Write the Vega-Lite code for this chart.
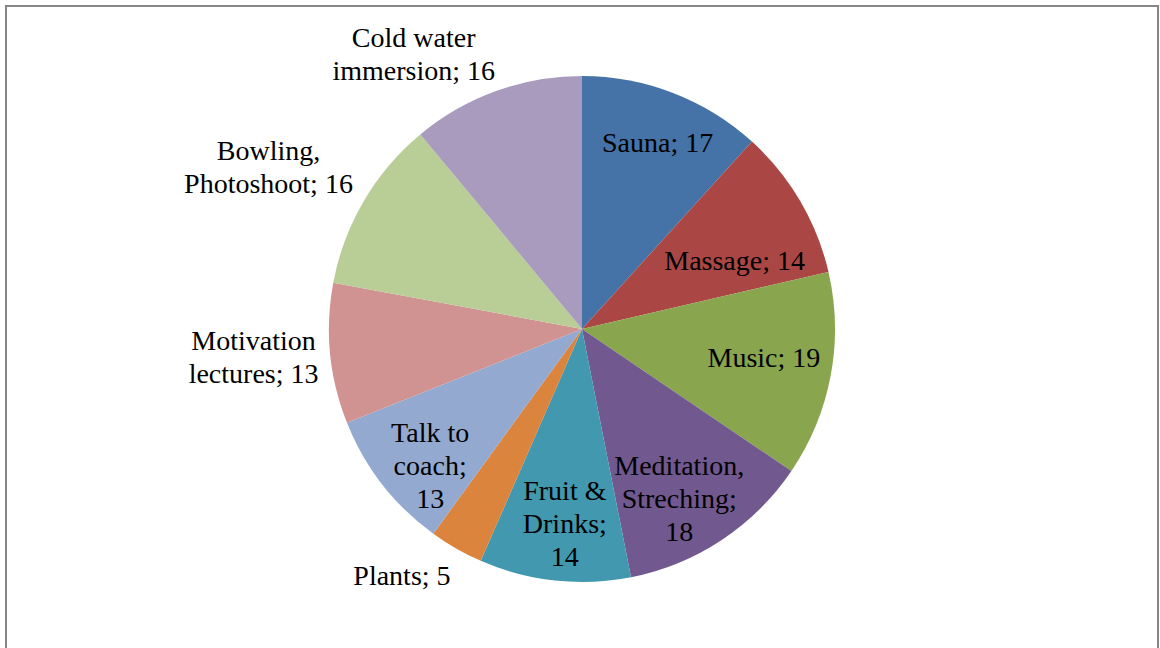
{
  "$schema": "https://vega.github.io/schema/vega-lite/v6.json",
  "width": 1152,
  "height": 646,
  "autosize": {"type": "none"},
  "padding": {"left": 6, "top": 6, "right": 2, "bottom": 0},
  "background": "white",
  "view": {"stroke": "#878787", "strokeWidth": 2, "fill": "white"},
  "config": {"view": {"stroke": "#878787", "strokeWidth": 2}},
  "data": {
    "values": [
      {"idx": 1, "category": "Sauna", "value": 17, "label": "Sauna; 17"},
      {"idx": 2, "category": "Massage", "value": 14, "label": "Massage; 14"},
      {"idx": 3, "category": "Music", "value": 19, "label": "Music; 19"},
      {"idx": 4, "category": "Meditation, Streching", "value": 18, "label": "Meditation,\nStreching;\n18"},
      {"idx": 5, "category": "Fruit & Drinks", "value": 14, "label": "Fruit &\nDrinks;\n14"},
      {"idx": 6, "category": "Plants", "value": 5, "label": "Plants; 5"},
      {"idx": 7, "category": "Talk to coach", "value": 13, "label": "Talk to\ncoach;\n13"},
      {"idx": 8, "category": "Motivation lectures", "value": 13, "label": "Motivation\nlectures; 13"},
      {"idx": 9, "category": "Bowling, Photoshoot", "value": 16, "label": "Bowling,\nPhotoshoot; 16"},
      {"idx": 10, "category": "Cold water immersion", "value": 16, "label": "Cold water\nimmersion; 16"}
    ]
  },
  "encoding": {
    "theta": {"field": "value", "type": "quantitative", "stack": true},
    "order": {"field": "idx", "type": "quantitative"}
  },
  "layer": [
    {
      "mark": {"type": "arc", "radius": 253},
      "encoding": {
        "color": {
          "field": "category",
          "type": "nominal",
          "scale": {
            "domain": ["Sauna", "Massage", "Music", "Meditation, Streching", "Fruit & Drinks", "Plants", "Talk to coach", "Motivation lectures", "Bowling, Photoshoot", "Cold water immersion"],
            "range": ["#4572A7", "#AA4643", "#89A54E", "#71588F", "#4198AF", "#DB843D", "#93A9CF", "#D19392", "#B9CD96", "#A99BBD"]
          },
          "legend": null
        }
      }
    },
    {
      "mark": {"type": "text", "radius": 199, "dx": 4, "dy": 1, "font": "Liberation Serif", "fontSize": 28, "lineBreak": "\n", "lineHeight": 33, "color": "black", "align": "center", "baseline": "middle"},
      "encoding": {"detail": {"field": "category", "type": "nominal"}, "text": {"condition": {"test": "datum.category === 'Sauna'", "field": "label", "type": "nominal"}, "value": ""}}
    },
    {
      "mark": {"type": "text", "radius": 170, "dx": 6, "dy": 19, "font": "Liberation Serif", "fontSize": 28, "lineBreak": "\n", "lineHeight": 33, "color": "black", "align": "center", "baseline": "middle"},
      "encoding": {"detail": {"field": "category", "type": "nominal"}, "text": {"condition": {"test": "datum.category === 'Massage'", "field": "label", "type": "nominal"}, "value": ""}}
    },
    {
      "mark": {"type": "text", "radius": 184, "dx": 1, "dy": -4, "font": "Liberation Serif", "fontSize": 28, "lineBreak": "\n", "lineHeight": 33, "color": "black", "align": "center", "baseline": "middle"},
      "encoding": {"detail": {"field": "category", "type": "nominal"}, "text": {"condition": {"test": "datum.category === 'Music'", "field": "label", "type": "nominal"}, "value": ""}}
    },
    {
      "mark": {"type": "text", "radius": 196, "dx": -11, "dy": -25, "font": "Liberation Serif", "fontSize": 28, "lineBreak": "\n", "lineHeight": 33, "color": "black", "align": "center", "baseline": "middle"},
      "encoding": {"detail": {"field": "category", "type": "nominal"}, "text": {"condition": {"test": "datum.category === 'Meditation, Streching'", "field": "label", "type": "nominal"}, "value": ""}}
    },
    {
      "mark": {"type": "text", "radius": 196, "dx": 4, "dy": -32, "font": "Liberation Serif", "fontSize": 28, "lineBreak": "\n", "lineHeight": 33, "color": "black", "align": "center", "baseline": "middle"},
      "encoding": {"detail": {"field": "category", "type": "nominal"}, "text": {"condition": {"test": "datum.category === 'Fruit & Drinks'", "field": "label", "type": "nominal"}, "value": ""}}
    },
    {
      "mark": {"type": "text", "radius": 300, "dx": -31, "dy": -12, "font": "Liberation Serif", "fontSize": 28, "lineBreak": "\n", "lineHeight": 33, "color": "black", "align": "center", "baseline": "middle"},
      "encoding": {"detail": {"field": "category", "type": "nominal"}, "text": {"condition": {"test": "datum.category === 'Plants'", "field": "label", "type": "nominal"}, "value": ""}}
    },
    {
      "mark": {"type": "text", "radius": 205, "dx": 10, "dy": -21, "font": "Liberation Serif", "fontSize": 28, "lineBreak": "\n", "lineHeight": 33, "color": "black", "align": "center", "baseline": "middle"},
      "encoding": {"detail": {"field": "category", "type": "nominal"}, "text": {"condition": {"test": "datum.category === 'Talk to coach'", "field": "label", "type": "nominal"}, "value": ""}}
    },
    {
      "mark": {"type": "text", "radius": 330, "dx": 0, "dy": -19.5, "font": "Liberation Serif", "fontSize": 28, "lineBreak": "\n", "lineHeight": 33, "color": "black", "align": "center", "baseline": "middle"},
      "encoding": {"detail": {"field": "category", "type": "nominal"}, "text": {"condition": {"test": "datum.category === 'Motivation lectures'", "field": "label", "type": "nominal"}, "value": ""}}
    },
    {
      "mark": {"type": "text", "radius": 345, "dx": -16, "dy": -2.5, "font": "Liberation Serif", "fontSize": 28, "lineBreak": "\n", "lineHeight": 33, "color": "black", "align": "center", "baseline": "middle"},
      "encoding": {"detail": {"field": "category", "type": "nominal"}, "text": {"condition": {"test": "datum.category === 'Bowling, Photoshoot'", "field": "label", "type": "nominal"}, "value": ""}}
    },
    {
      "mark": {"type": "text", "radius": 310, "dx": -63, "dy": 1.5, "font": "Liberation Serif", "fontSize": 28, "lineBreak": "\n", "lineHeight": 33, "color": "black", "align": "center", "baseline": "middle"},
      "encoding": {"detail": {"field": "category", "type": "nominal"}, "text": {"condition": {"test": "datum.category === 'Cold water immersion'", "field": "label", "type": "nominal"}, "value": ""}}
    }
  ]
}
